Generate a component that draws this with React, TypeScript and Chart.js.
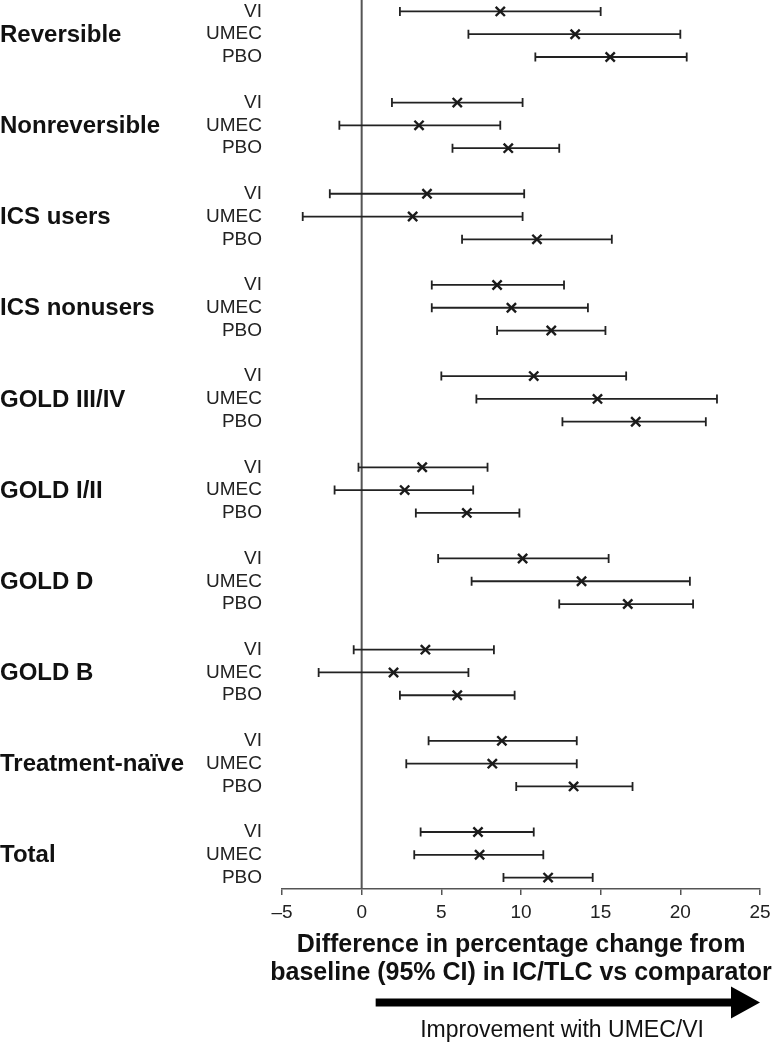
import React, { useEffect, useRef } from 'react';
import { Chart, registerables } from 'chart.js';

Chart.register(...registerables);

// ---------- DATA ----------
const groups = [
  'Reversible',
  'Nonreversible',
  'ICS users',
  'ICS nonusers',
  'GOLD III/IV',
  'GOLD I/II',
  'GOLD D',
  'GOLD B',
  'Treatment-naïve',
  'Total',
];
const comparators = ['VI', 'UMEC', 'PBO'];

// point estimates, per group: [VI, UMEC, PBO]
const estimates = [
  8.7, 13.4, 15.6,
  6.0, 3.6, 9.2,
  4.1, 3.2, 11.0,
  8.5, 9.4, 11.9,
  10.8, 14.8, 17.2,
  3.8, 2.7, 6.6,
  10.1, 13.8, 16.7,
  4.0, 2.0, 6.0,
  8.8, 8.2, 13.3,
  7.3, 7.4, 11.7,
];
// lower 95% CI
const lowerCI = [
  2.4, 6.7, 10.9,
  1.9, -1.4, 5.7,
  -2.0, -3.7, 6.3,
  4.4, 4.4, 8.5,
  5.0, 7.2, 12.6,
  -0.2, -1.7, 3.4,
  4.8, 6.9, 12.4,
  -0.5, -2.7, 2.4,
  4.2, 2.8, 9.7,
  3.7, 3.3, 8.9,
];
// upper 95% CI
const upperCI = [
  15.0, 20.0, 20.4,
  10.1, 8.7, 12.4,
  10.2, 10.1, 15.7,
  12.7, 14.2, 15.3,
  16.6, 22.3, 21.6,
  7.9, 7.0, 9.9,
  15.5, 20.6, 20.8,
  8.3, 6.7, 9.6,
  13.5, 13.5, 17.0,
  10.8, 11.4, 14.5,
];
const xTicks = [-5, 0, 5, 10, 15, 20, 25];
const xTitle = ['Difference in percentage change from', 'baseline (95% CI) in IC/TLC vs comparator'];
const arrowLabel = 'Improvement with UMEC/VI';

// row slot for each estimate (4 slots per group: 3 rows + gap)
const rowIndex = estimates.map((_, i) => Math.floor(i / 3) * 4 + (i % 3));

const FONT = '"Liberation Sans", Arial, Helvetica, sans-serif';

const forestPlugin = {
  id: 'forestExtras',
  beforeDatasetsDraw(chart: any) {
    const { ctx, chartArea, scales } = chart;
    const x = scales.x;
    const y = scales.y;
    ctx.save();
    // zero reference line
    const x0 = x.getPixelForValue(0);
    ctx.strokeStyle = '#555';
    ctx.lineWidth = 2;
    ctx.beginPath();
    ctx.moveTo(x0, chartArea.top);
    ctx.lineTo(x0, chartArea.bottom);
    ctx.stroke();
    // CI bars
    ctx.strokeStyle = '#222';
    ctx.lineWidth = 1.8;
    const cap = 4.5;
    rowIndex.forEach((r, i) => {
      const py = y.getPixelForValue(r);
      const xl = x.getPixelForValue(lowerCI[i]);
      const xu = x.getPixelForValue(upperCI[i]);
      ctx.beginPath();
      ctx.moveTo(xl, py);
      ctx.lineTo(xu, py);
      ctx.moveTo(xl, py - cap);
      ctx.lineTo(xl, py + cap);
      ctx.moveTo(xu, py - cap);
      ctx.lineTo(xu, py + cap);
      ctx.stroke();
    });
    ctx.restore();
  },
  afterDraw(chart: any) {
    const { ctx, chartArea, scales } = chart;
    const x = scales.x;
    const y = scales.y;
    ctx.save();
    // group labels
    ctx.fillStyle = '#111';
    ctx.font = `bold 24px ${FONT}`;
    ctx.textAlign = 'left';
    ctx.textBaseline = 'middle';
    groups.forEach((g, gi) => {
      ctx.fillText(g, 0, y.getPixelForValue(gi * 4 + 1) + 1);
    });
    // axis title (two lines, centred under the plot area)
    const cx = (chartArea.left + chartArea.right) / 2;
    ctx.font = `bold 25px ${FONT}`;
    ctx.textAlign = 'center';
    xTitle.forEach((line, li) => {
      ctx.fillText(line, cx, 945 + li * 28);
    });
    // arrow
    const ay = 1002.5;
    const xStart = x.getPixelForValue(0) + 14;
    const xEnd = chartArea.right;
    const headLen = 29;
    const headH = 16;
    const bodyH = 4;
    ctx.fillStyle = '#000';
    ctx.beginPath();
    ctx.moveTo(xStart, ay - bodyH);
    ctx.lineTo(xEnd - headLen, ay - bodyH);
    ctx.lineTo(xEnd - headLen, ay - headH);
    ctx.lineTo(xEnd, ay);
    ctx.lineTo(xEnd - headLen, ay + headH);
    ctx.lineTo(xEnd - headLen, ay + bodyH);
    ctx.lineTo(xStart, ay + bodyH);
    ctx.closePath();
    ctx.fill();
    // arrow label
    ctx.fillStyle = '#111';
    ctx.font = `23px ${FONT}`;
    ctx.textAlign = 'center';
    ctx.textBaseline = 'middle';
    ctx.fillText(arrowLabel, 562, 1031);
    ctx.restore();
  },
};

export default function App() {
  const ref = useRef<HTMLCanvasElement | null>(null);

  useEffect(() => {
    if (!ref.current) return;
    const chart = new Chart(ref.current, {
      type: 'scatter',
      data: {
        datasets: [
          {
            data: estimates.map((v, i) => ({ x: v, y: rowIndex[i] })),
            pointStyle: 'crossRot',
            pointRadius: 6.5,
            pointBorderWidth: 2.4,
            borderColor: '#1a1a1a',
            backgroundColor: '#1a1a1a',
          } as any,
        ],
      },
      options: {
        animation: false,
        responsive: true,
        maintainAspectRatio: false,
        layout: { autoPadding: false, padding: { top: 0, right: 12, left: 0, bottom: 0 } },
        plugins: { legend: { display: false }, tooltip: { enabled: false } },
        scales: {
          x: {
            type: 'linear',
            min: -5,
            max: 25,
            afterBuildTicks: (s: any) => {
              s.ticks = xTicks.map((v) => ({ value: v }));
            },
            afterFit: (s: any) => {
              s.height = 154;
              s.paddingLeft = 0;
              s.paddingRight = 0;
            },
            ticks: {
              autoSkip: false,
              maxRotation: 0,
              padding: 6,
              color: '#222',
              font: { family: FONT, size: 19 },
              callback: (v: any) => (Number(v) < 0 ? '\u2013' + Math.abs(Number(v)) : String(v)),
            },
            grid: { drawOnChartArea: false, drawTicks: true, tickLength: 6, color: '#555', lineWidth: 1.5 },
            border: { display: true, color: '#555', width: 1.5 },
            title: { display: false },
          },
          y: {
            type: 'linear',
            min: -0.5,
            max: 38.5,
            reverse: true,
            afterBuildTicks: (s: any) => {
              s.ticks = rowIndex.map((v) => ({ value: v }));
            },
            afterFit: (s: any) => {
              s.width = 282;
              s.paddingTop = 0;
              s.paddingBottom = 0;
            },
            ticks: {
              autoSkip: false,
              padding: 20,
              color: '#222',
              font: { family: FONT, size: 19 },
              callback: (v: any) => comparators[Number(v) % 4] ?? '',
            },
            grid: { display: false, drawTicks: false },
            border: { display: false },
          },
        },
      } as any,
      plugins: [forestPlugin],
    });
    return () => chart.destroy();
  }, []);

  return (
    <div style={{ position: 'absolute', left: 0, top: 0, width: 772, height: 1043, background: '#fff' }}>
      <canvas ref={ref} />
    </div>
  );
}
